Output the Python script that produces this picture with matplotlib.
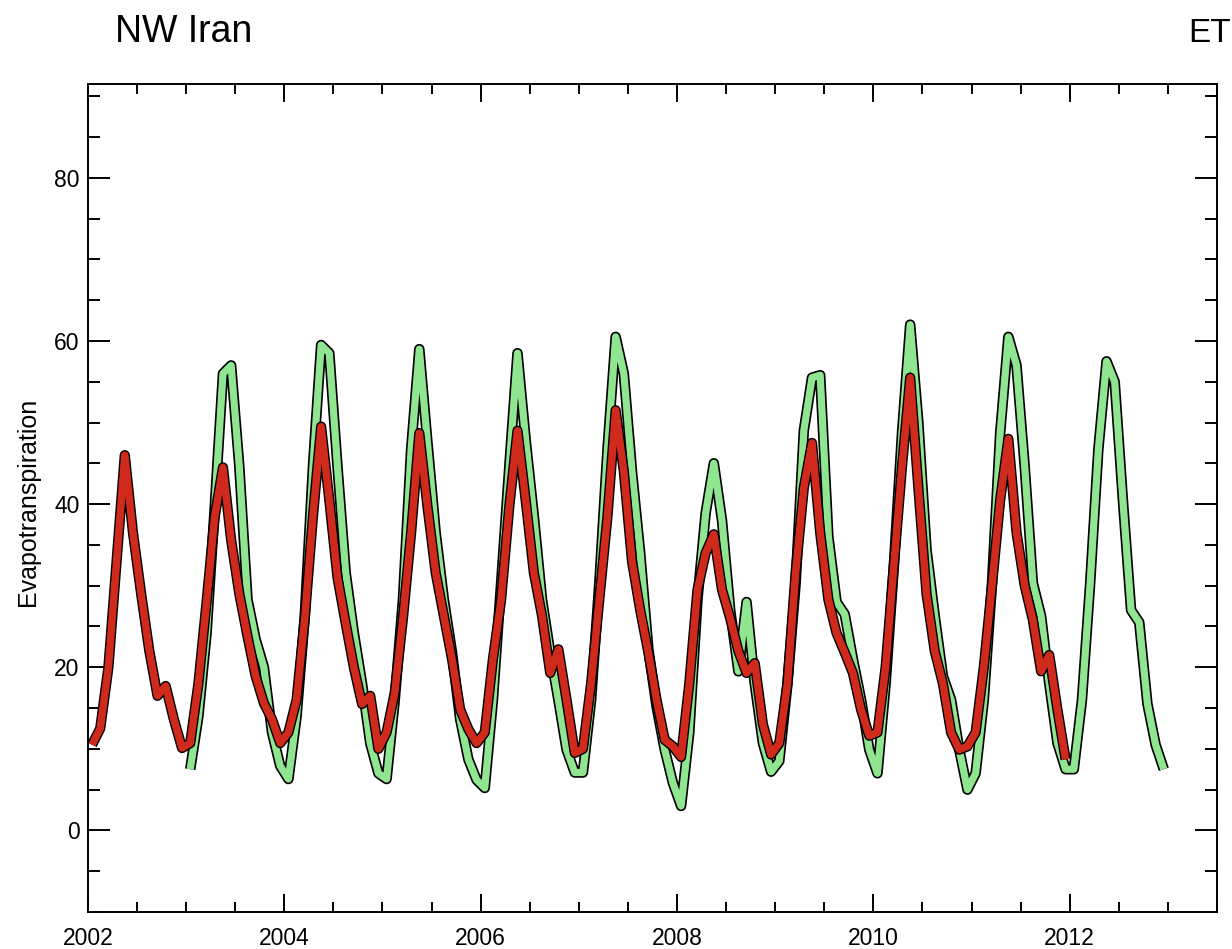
import numpy as np
import matplotlib
matplotlib.use('Agg')
import matplotlib.pyplot as plt
import matplotlib.patheffects as pe
from matplotlib.ticker import MultipleLocator, FormatStrFormatter

plt.rcParams['font.family'] = ['Liberation Sans', 'DejaVu Sans']

# monthly ET, red series starts Jan 2002, green series starts Jan 2003
red_start = 2002
red_et = [
    10.5, 12.5, 20.0, 33.0, 46.0, 36.5, 29.0, 22.0, 16.5, 17.7, 13.6, 10.1,   # 2002
    10.7, 18.0, 28.0, 38.5, 44.5, 35.6, 29.0, 23.8, 18.9, 15.6, 13.6, 10.7,   # 2003
    12.0, 16.0, 26.0, 38.5, 49.5, 40.5, 31.0, 25.4, 20.0, 15.5, 16.5, 10.0,   # 2004
    12.0, 16.9, 26.0, 36.5, 48.7, 39.7, 31.6, 26.3, 21.0, 14.8, 12.4, 10.7,   # 2005
    12.0, 21.0, 28.3, 39.7, 49.0, 40.5, 31.6, 26.3, 19.3, 22.2, 16.0, 9.5,    # 2006
    10.0, 18.0, 28.3, 38.5, 51.5, 44.0, 33.0, 27.0, 21.8, 16.0, 11.1, 10.3,   # 2007
    9.0, 18.0, 29.5, 34.0, 36.3, 29.5, 26.0, 22.0, 19.3, 20.5, 13.0, 9.3,     # 2008
    10.7, 18.0, 31.6, 42.0, 47.5, 36.5, 28.3, 24.2, 21.8, 19.3, 14.8, 11.6,   # 2009
    12.0, 20.0, 32.4, 44.6, 55.5, 42.0, 29.0, 22.0, 18.0, 12.0, 9.9, 10.3,    # 2010
    12.0, 20.0, 30.0, 40.5, 48.0, 36.5, 30.0, 25.8, 19.5, 21.5, 14.8, 8.7,    # 2011
]

green_start = 2003
green_et = [
    7.5, 14.0, 24.2, 39.7, 56.0, 57.0, 44.6, 28.3, 23.4, 20.0, 12.0, 7.9,     # 2003
    6.3, 14.0, 26.3, 44.6, 59.5, 58.5, 44.6, 31.6, 24.2, 18.0, 10.7, 7.0,     # 2004
    6.3, 16.0, 28.3, 46.7, 59.0, 47.5, 36.5, 28.3, 21.8, 13.6, 8.7, 6.2,      # 2005
    5.2, 16.0, 30.3, 44.6, 58.5, 47.9, 38.5, 28.3, 21.8, 16.0, 9.9, 7.1,      # 2006
    7.1, 16.0, 30.3, 46.7, 60.5, 56.0, 44.0, 34.0, 22.2, 15.2, 9.9, 5.8,      # 2007
    3.0, 12.0, 28.3, 38.9, 45.0, 38.0, 27.0, 19.5, 28.0, 18.0, 10.7, 7.2,     # 2008
    8.5, 18.0, 30.3, 49.0, 55.5, 55.8, 36.0, 28.0, 26.5, 21.0, 16.0, 9.9,     # 2009
    7.0, 18.0, 32.4, 48.7, 62.0, 50.0, 34.4, 26.3, 18.9, 16.0, 9.9, 5.0,      # 2010
    7.0, 16.0, 30.3, 48.7, 60.5, 57.0, 44.6, 30.3, 26.3, 18.0, 10.7, 7.5,     # 2011
    7.5, 16.0, 30.3, 46.7, 57.5, 55.0, 40.5, 27.0, 25.5, 15.5, 10.5, 7.5,     # 2012
]

# decimal year at mid-month
red_x = red_start + (np.arange(len(red_et)) + 0.5) / 12
green_x = green_start + (np.arange(len(green_et)) + 0.5) / 12

fig = plt.figure(figsize=(12.32, 9.49), dpi=100)
ax = fig.add_axes([0.0714, 0.039, 0.9164, 0.8725])

ax.plot(green_x, green_et, color='#90e690', lw=5.2, solid_joinstyle='round',
        solid_capstyle='butt',
        path_effects=[pe.Stroke(linewidth=7.6, foreground='black'), pe.Normal()])
ax.plot(red_x, red_et, color='#cf2a1c', lw=5.4, solid_joinstyle='round',
        solid_capstyle='butt',
        path_effects=[pe.Stroke(linewidth=7.4, foreground='black'), pe.Normal()])

ax.set_xlim(2002, 2013.5)
ax.set_ylim(-10, 91.5)

ax.xaxis.set_major_locator(MultipleLocator(2))
ax.xaxis.set_minor_locator(MultipleLocator(0.5))
ax.xaxis.set_major_formatter(FormatStrFormatter('%d'))
ax.yaxis.set_major_locator(MultipleLocator(20))
ax.yaxis.set_minor_locator(MultipleLocator(5))

ax.tick_params(axis='both', which='both', direction='in', top=True, right=True,
               width=1.4, labelsize=16.5, colors='black')
ax.tick_params(axis='x', which='major', length=13, pad=11)
ax.tick_params(axis='x', which='minor', length=7.2)
ax.tick_params(axis='y', which='major', length=16, pad=6)
ax.tick_params(axis='y', which='minor', length=8.6)
for s in ax.spines.values():
    s.set_linewidth(1.4)

fig.text(28 / 1232, 0.471, 'Evapotranspiration', rotation=90, ha='center', va='center', fontsize=18)
fig.text(115 / 1232, 1 - 42 / 949, 'NW Iran', ha='left', va='baseline', fontsize=27)
fig.text(1188 / 1232, 1 - 42 / 949, 'ET', ha='left', va='baseline', fontsize=24)

fig.savefig('out.png', dpi=100)
